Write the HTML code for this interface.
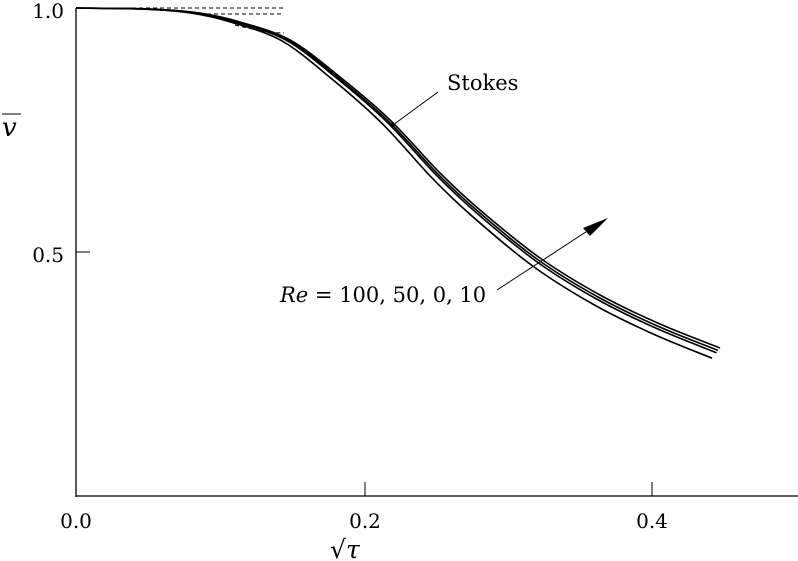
<!DOCTYPE html>
<html><head><meta charset="utf-8"><style>
html,body{margin:0;padding:0;background:#fff;}
svg{display:block;}
text{font-family:"DejaVu Serif","Liberation Serif",serif;fill:#000;}
</style></head><body>
<svg width="798" height="561" viewBox="0 0 798 561" xmlns="http://www.w3.org/2000/svg">
<defs>
<clipPath id="c"><rect x="76" y="0" width="722" height="561"/></clipPath>
<path id="cv" d="M40,8 L76,8 C88.3,8.2 129.3,8.2 150,9 C170.7,9.8 185,10.8 200,13 C215,15.2 225,17.5 240,22 C255,26.5 273.3,30.8 290,40 C306.7,49.2 323.3,63.7 340,77 C356.7,90.3 373.3,104 390,120 C406.7,136 425,158 440,173 C455,188 463.3,195.8 480,210 C496.7,224.2 520,243.8 540,258 C560,272.2 580,284 600,295 C620,306 640,315.2 660,324 C680,332.8 710,344 720,348"/>
</defs>
<g stroke="#000" fill="none">
<line x1="76" y1="8" x2="76" y2="497" stroke-width="1.3"/>
<line x1="76" y1="496" x2="798" y2="496" stroke-width="1.3"/>
<line x1="76" y1="8" x2="84" y2="8"/>
<line x1="76" y1="252" x2="90" y2="252"/>
<line x1="76" y1="482" x2="76" y2="496"/>
<line x1="365" y1="482" x2="365" y2="496"/>
<line x1="652" y1="482" x2="652" y2="496"/>
<g clip-path="url(#c)" stroke-width="1.6">
<use href="#cv"/>
<use href="#cv" transform="translate(0,8) scale(1,1.007) translate(-2,-8)"/>
<use href="#cv" transform="translate(0,8) scale(1,1.014) translate(-3.5,-8)"/>
<use href="#cv" transform="translate(0,8) scale(1,1.03) translate(-8,-8)"/>
</g>
<line x1="76" y1="8" x2="284" y2="8" stroke-dasharray="4,3"/>
<line x1="200" y1="14" x2="284" y2="14" stroke-dasharray="4,3"/>
<path d="M235,25 C255,30 270,33 284,33" stroke-dasharray="4,3"/>
<line x1="438" y1="92" x2="393" y2="125"/>
<line x1="497" y1="290" x2="595" y2="226"/>
</g>
<polygon points="608,218 590,236 583,228" fill="#000"/>
<circle cx="393" cy="125" r="2" fill="#000"/>
<text x="64" y="18" font-size="20" text-anchor="end">1.0</text>
<text x="64" y="262" font-size="20" text-anchor="end">0.5</text>
<text x="76" y="528" font-size="20" text-anchor="middle">0.0</text>
<text x="365" y="528" font-size="20" text-anchor="middle">0.2</text>
<text x="652" y="528" font-size="20" text-anchor="middle">0.4</text>
<text x="330" y="558" font-size="25">√<tspan font-style="italic">τ</tspan></text>
<line x1="2" y1="114" x2="21" y2="114" stroke="#000" stroke-width="1"/>
<text x="2" y="136" font-size="26" font-style="italic">v</text>
<text x="447" y="90" font-size="21">Stokes</text>
<text x="280" y="302" font-size="21"><tspan font-style="italic">Re</tspan> = 100, 50, 0, 10</text>
</svg>
</body></html>
